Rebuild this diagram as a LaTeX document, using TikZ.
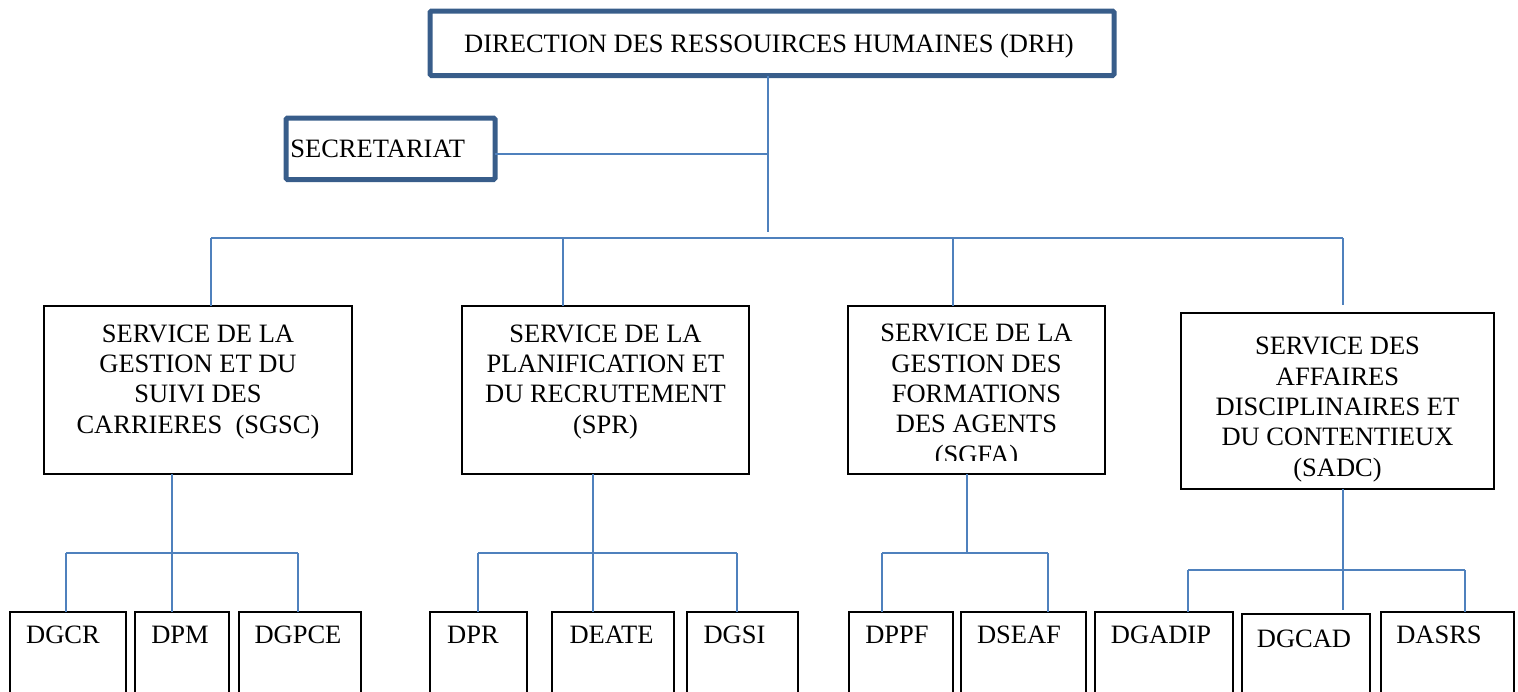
\documentclass[tikz,border=0pt]{standalone}
\usepackage{fontspec}
\setmainfont{Liberation Serif}

\definecolor{drhblue}{RGB}{56,93,138}
\definecolor{linkblue}{RGB}{79,129,189}

\tikzset{every picture/.style={line width=0.75pt}}

\begin{document}
\begin{tikzpicture}[x=1pt,y=1pt,yscale=-1,xscale=1,
	orgbox/.style={draw=drhblue, line width=5pt, rounded corners=1.5pt, inner sep=0pt, outer sep=0pt, anchor=north west},
	svcbox/.style={draw=black, line width=1.3pt, inner sep=0pt, outer sep=0pt, anchor=north west},
	boxtext/.style={font=\fontsize{26.5}{30.3}\selectfont, align=center, inner sep=0pt, anchor=base},
	link/.style={draw=linkblue, line width=1.7pt}]
		%set diagram frame: 1518 x 691
		\useasboundingbox (0,0) rectangle (1518,691);
		\clip (0,0) rectangle (1518,691);

		%Shape: Direction
		\node [orgbox, minimum width=684, minimum height=64.5] (drh) at (430,11) {};
		\node [boxtext] (drh-txt) at (769,52.5) {DIRECTION DES RESSOUIRCES HUMAINES (DRH)};
		%Shape: Secretariat
		\node [orgbox, minimum width=209, minimum height=61.5] (secr) at (286,118) {};
		\node [boxtext, anchor=base west] (secr-txt) at (290,157) {SECRETARIAT};

		%Shape: Services
		\node [svcbox, minimum width=308, minimum height=168] (sgsc) at (44,306) {};
		\node [svcbox, minimum width=287, minimum height=168] (spr) at (462,306) {};
		\node [svcbox, minimum width=257, minimum height=168] (sgfa) at (848,306) {};
		\node [svcbox, minimum width=313, minimum height=176] (sadc) at (1181,313) {};

		% Text Node (base = last line)
		\node [boxtext] (sgsc-txt) at (198,433) {SERVICE DE LA\\GESTION ET DU\\SUIVI DES\\CARRIERES\ \ (SGSC)};
		% Text Node
		\node [boxtext] (spr-txt) at (605.5,433) {SERVICE DE LA\\PLANIFICATION ET\\DU RECRUTEMENT\\(SPR)};
		% Text Node (cut by the box)
		\begin{scope}
			\clip (848,306) rectangle (1105,460);
			\node [boxtext] (sgfa-txt) at (976.5,463) {SERVICE DE LA\\GESTION DES\\FORMATIONS\\DES AGENTS\\(SGFA)};
		\end{scope}
		% Text Node
		\node [boxtext] (sadc-txt) at (1337.5,476) {SERVICE DES\\AFFAIRES\\DISCIPLINAIRES ET\\DU CONTENTIEUX\\(SADC)};

		%Shape: Divisions
		\foreach \nm/\xl/\bw/\yt/\xt/\yb/\lbl in {
			dgcr/10/116/612/63/643/DGCR,
			dpm/135/94/612/180/643/DPM,
			dgpce/239/122/612/298/643/DGPCE,
			dpr/430/97/612/473/643/DPR,
			deate/552/122/612/611.5/643/DEATE,
			dgsi/687/111/612/734.5/643/DGSI,
			dppf/849/104/612/897/643/DPPF,
			dseaf/961/125/612/1019/643/DSEAF,
			dgadip/1095/138/612/1161/643/DGADIP,
			dgcad/1242/128/614/1304/647/DGCAD,
			dasrs/1381/133/612/1439/643/DASRS}{
			\node [svcbox, minimum width=\bw, minimum height=110] (\nm) at (\xl,\yt) {};
			\node [boxtext] (\nm-txt) at (\xt,\yb) {\lbl};
		}

		%Straight Lines: direction to services
		\coordinate (hub) at (768,232);
		\coordinate (secr-lvl) at (768,154);
		\draw [link] (drh.south -| hub) -- (hub);
		\draw [link] (secr.east |- secr-lvl) -- (secr-lvl);
		\coordinate (busL) at (211,238);
		\coordinate (busR) at (1343,238);
		\draw [link] (busL) -- (busR);
		\coordinate (bus2) at (563,238);
		\coordinate (bus3) at (953,238);
		\draw [link] (busL) -- (busL |- sgsc.north);
		\draw [link] (bus2) -- (bus2 |- spr.north);
		\draw [link] (bus3) -- (bus3 |- sgfa.north);
		\coordinate (sadc-in) at (1343,305);
		\draw [link] (busR) -- (sadc-in);

		%Straight Lines: SGSC branch
		\coordinate (j1) at (172,553);
		\coordinate (j1a) at (66,553);
		\coordinate (j1c) at (298,553);
		\draw [link] (j1 |- sgsc.south) -- (j1);
		\draw [link] (j1a) -- (j1c);
		\draw [link] (j1a) -- (j1a |- dgcr.north);
		\draw [link] (j1) -- (j1 |- dpm.north);
		\draw [link] (j1c) -- (j1c |- dgpce.north);

		%Straight Lines: SPR branch
		\coordinate (j2) at (593,553);
		\coordinate (j2a) at (478,553);
		\coordinate (j2c) at (737,553);
		\draw [link] (j2 |- spr.south) -- (j2);
		\draw [link] (j2a) -- (j2c);
		\draw [link] (j2a) -- (j2a |- dpr.north);
		\draw [link] (j2) -- (j2 |- deate.north);
		\draw [link] (j2c) -- (j2c |- dgsi.north);

		%Straight Lines: SGFA branch
		\coordinate (j3) at (967,553);
		\coordinate (j3a) at (882,553);
		\coordinate (j3c) at (1048,553);
		\draw [link] (j3 |- sgfa.south) -- (j3);
		\draw [link] (j3a) -- (j3c);
		\draw [link] (j3a) -- (j3a |- dppf.north);
		\draw [link] (j3c) -- (j3c |- dseaf.north);

		%Straight Lines: SADC branch
		\coordinate (j4) at (1343,570);
		\coordinate (j4a) at (1188,570);
		\coordinate (j4c) at (1465,570);
		\coordinate (j4end) at (1343,610);
		\draw [link] (j4 |- sadc.south) -- (j4end);
		\draw [link] (j4a) -- (j4c);
		\draw [link] (j4a) -- (j4a |- dgadip.north);
		\draw [link] (j4c) -- (j4c |- dasrs.north);

	\end{tikzpicture}
\end{document}
